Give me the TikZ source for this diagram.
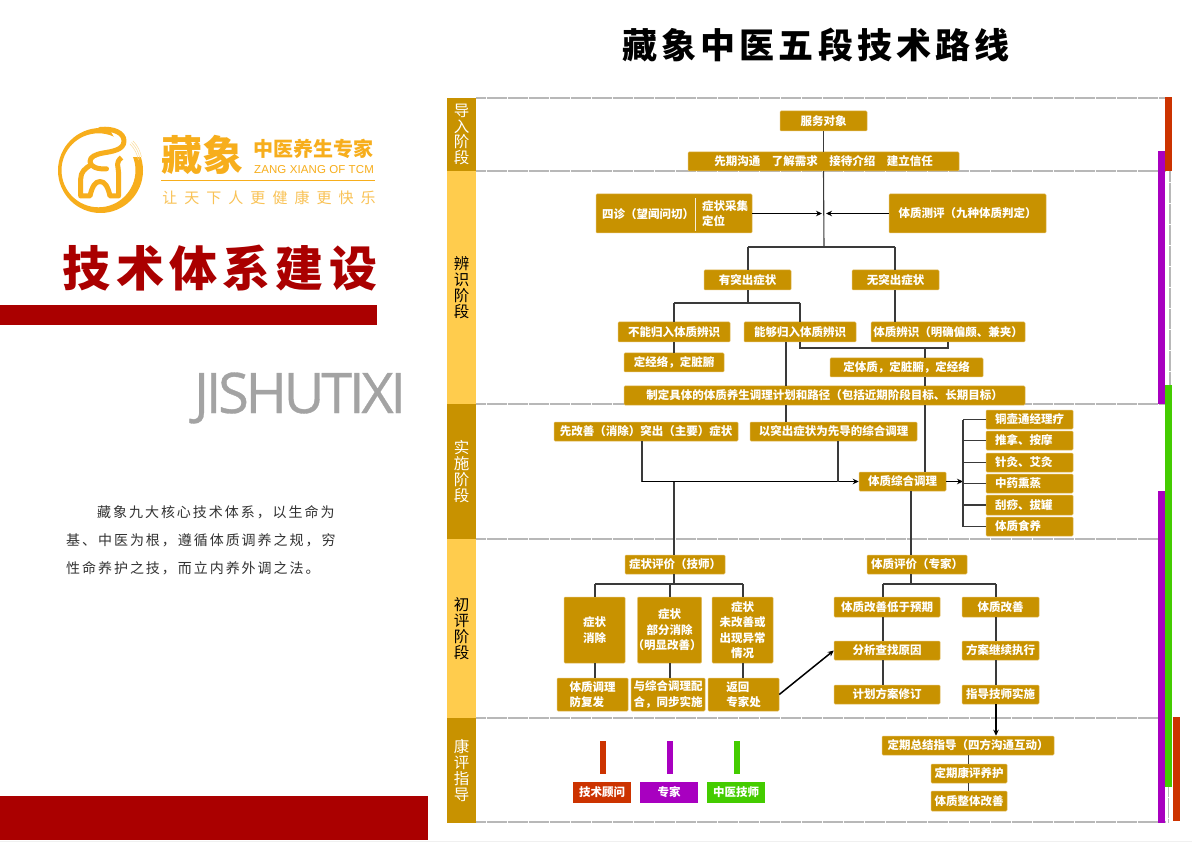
\documentclass[tikz,border=0pt]{standalone}
\usepackage{fontspec}
\setmainfont{Noto Sans CJK SC}
\newfontfamily\latinsans{Liberation Sans}
\newfontfamily\latinlight[FakeBold=0.6,LetterSpace=-5.8]{Open Sans}
\usetikzlibrary{arrows.meta}
\definecolor{gold}{HTML}{C89200}
\definecolor{goldedge}{HTML}{E2BC62}
\definecolor{paleband}{HTML}{FFCC4D}
\definecolor{logoorange}{HTML}{F7AE1C}
\definecolor{deepred}{HTML}{AA0000}
\definecolor{techred}{HTML}{CC3300}
\definecolor{techpurple}{HTML}{A800C0}
\definecolor{techgreen}{HTML}{44CC00}
\definecolor{linegray}{HTML}{3A3A3A}
\definecolor{dotgray}{HTML}{B8B8B8}
\tikzset{
  flowbox/.style={fill=gold,draw=goldedge,line width=0.5pt,rounded corners=1pt,inner sep=0pt,
    text=white,align=center,font=\fontsize{11.5}{15.5}\selectfont\bfseries},
  stageband/.style={fill=gold,inner sep=0pt,text=white,align=center,font=\fontsize{15.5}{15.8}\selectfont},
  paleband/.style={fill=paleband,inner sep=0pt,text=black,align=center,font=\fontsize{15.5}{15.8}\selectfont},
  treatbox/.style={text width=69pt,align=left},
  conn/.style={draw=linegray,line width=1.1pt},
  arrowconn/.style={draw=black,line width=1.1pt,-{Stealth[length=6pt,width=5.5pt]}},
  dotline/.style={draw=dotgray,line width=1.3pt,dash pattern=on 0.7pt off 0.35pt},
  plainlabel/.style={inner sep=0pt,anchor=west,text=white,font=\fontsize{11.5}{15.5}\selectfont\bfseries,align=left},
  paraline/.style={inner sep=0pt,anchor=west,text=black!80,font=\fontsize{14}{16}\selectfont\addfontfeature{LetterSpace=14}},
  logostroke/.style={logoorange,line width=5pt,line join=round,line cap=round},
}
% name, x1, y1, x2, y2 with options, then text
\newcommand{\flowbox}[7][flowbox]{%
  \node[#1,minimum width={(#4-#2)*1pt},minimum height={(#5-#3)*1pt}] (#6) at ({(#2+#4)/2},{(#3+#5)/2}) {#7};}
\begin{document}
\begin{tikzpicture}[x=1pt,y=-1pt]
\useasboundingbox (0,0) rectangle (1192,842);
\fill[white] (0,0) rectangle (1192,842);
\fill[black!6] (0,840.5) rectangle (1192,842);

% left column
\fill[deepred] (0,305) rectangle (377,325);
\fill[deepred] (0,796) rectangle (428,840);
% logo
\fill[logoorange,even odd rule] (100.5,170.5) circle (42.5) (98.5,170.3) circle (37);
\fill[white] (104,120) -- (150,120) -- (150,157) -- (126,157) -- cycle;
\foreach \dd in {0,1.5,3}{\draw[logoorange!45,line width=0.5pt] (130+\dd,144-\dd) .. controls (135+\dd,149-\dd) and (137+\dd,154-\dd) .. (138.5+\dd,160-\dd);}
\draw[logostroke]
  (100,129.5) .. controls (114,128) and (124,133) .. (124,141)
  .. controls (124,150) and (112,151.5) .. (103,153)
  .. controls (95,154.5) and (90,157) .. (90,161.5)
  .. controls (90,167) and (98,169.5) .. (106.5,168.8);
\draw[logostroke,line cap=butt]
  (92,164.5) .. controls (85,168) and (80.7,172) .. (80.7,179) -- (80.7,196) -- (90,196)
  .. controls (92,187) and (95,181.5) .. (100,181.5) .. controls (105,181.5) and (108,187) .. (110,196)
  -- (118.5,196) -- (118.5,172) .. controls (118.5,166) and (115,163) .. (121.5,157.5);
\node[inner sep=0pt,text=logoorange,font=\fontsize{41}{41}\selectfont\bfseries] (logoname) at (202.5,155) {藏象};
\node[inner sep=0pt,text=logoorange,font=\fontsize{20}{20}\selectfont\bfseries] (logotag) at (313.5,149) {中医养生专家};
\node[inner sep=0pt,text=logoorange,font=\fontsize{11.5}{12}\latinsans\addfontfeature{LetterSpace=1}] (logoen) at (314,170) {ZANG XIANG OF TCM};
\fill[logoorange] (161,180) rectangle (375,181.2);
\node[inner sep=0pt,text=logoorange!75,font=\fontsize{15}{16}\selectfont\addfontfeature{LetterSpace=47}] (logoslogan) at (269,198) {让天下人更健康更快乐};
\node[inner sep=0pt,text=deepred,font=\fontsize{48}{49}\selectfont\bfseries\addfontfeature{LetterSpace=11}] (maintitle) at (220,268) {技术体系建设};
\node[inner sep=0pt,text=black!36,font=\fontsize{56}{58}\latinlight] (pinyin) at (300,398) {JISHUTIXI};
\node[paraline] (p1) at (97,512) {藏象九大核心技术体系，以生命为};
\node[paraline] (p2) at (66,540) {基、中医为根，遵循体质调养之规，穷};
\node[paraline] (p3) at (66,568) {性命养护之技，而立内养外调之法。};

% title
\node[inner sep=0pt,text=black,font=\fontsize{35}{36}\selectfont\bfseries\addfontfeature{LetterSpace=12}] (charttitle) at (816,45) {藏象中医五段技术路线};

% dotted frame
\foreach \yy in {98,171,404,539,718,822}{\draw[dotline] (476,\yy) -- (1165,\yy);}
\draw[dotline] (1170,171) -- (1170,385);
\draw[dotline] (1168.5,787) -- (1168.5,822);

% right bars
\fill[techred] (1165,97) rectangle (1172,171);
\fill[techpurple] (1158,151) rectangle (1165,404);
\fill[techgreen] (1165,385) rectangle (1172,787);
\fill[techpurple] (1158,491) rectangle (1165,823);
\fill[techred] (1173,717) rectangle (1180,821);

% stage bands
\flowbox[stageband]{447}{98}{476}{171}{s1}{导\\入\\阶\\段}
\flowbox[paleband]{447}{171}{476}{404}{s2}{辨\\识\\阶\\段}
\flowbox[stageband]{447}{404}{476}{539}{s3}{实\\施\\阶\\段}
\flowbox[paleband]{447}{539}{476}{718}{s4}{初\\评\\阶\\段}
\flowbox[stageband]{447}{718}{476}{823}{s5}{康\\评\\指\\导}

% boxes
\flowbox{780}{111}{867}{131}{svc}{服务对象}
\flowbox{688}{152}{959}{171}{intro}{先期沟通\quad 了解需求\quad 接待介绍\quad 建立信任}
\flowbox{596}{194}{752}{233}{diag}{}
\node[plainlabel] (diagl) at (602,214) {四诊（望闻问切）};
\node[plainlabel] (diagr) at (702,213.5) {症状采集\\定位};
\fill[white!85!gold] (694.5,198) rectangle (695.8,231);
\flowbox{889}{194}{1046}{233}{eval}{体质测评（九种体质判定）}
\flowbox{704}{270}{791}{290}{yes}{有突出症状}
\flowbox{852}{270}{939}{290}{no}{无突出症状}
\flowbox{618}{322}{730}{342}{cannot}{不能归入体质辨识}
\flowbox{744}{322}{856}{342}{can}{能够归入体质辨识}
\flowbox{871}{322}{1025}{342}{ident}{体质辨识（明确偏颇、兼夹）}
\flowbox{624}{353}{724}{372}{mer}{定经络，定脏腑}
\flowbox{830}{358}{983}{377}{fix}{定体质，定脏腑，定经络}
\flowbox{624}{386}{1025}{405}{plan}{制定具体的体质养生调理计划和路径（包括近期阶段目标、长期目标）}
\flowbox{554}{422}{738}{441}{first}{先改善（消除）突出（主要）症状}
\flowbox{750}{422}{917}{441}{lead}{以突出症状为先导的综合调理}
\flowbox{859}{472}{946}{491}{comp}{体质综合调理}
\flowbox[flowbox,treatbox]{986}{410}{1073}{429}{t1}{铜壶通经理疗}
\flowbox[flowbox,treatbox]{986}{431}{1073}{450}{t2}{推拿、按摩}
\flowbox[flowbox,treatbox]{986}{453}{1073}{472}{t3}{针灸、艾灸}
\flowbox[flowbox,treatbox]{986}{474}{1073}{493}{t4}{中药熏蒸}
\flowbox[flowbox,treatbox]{986}{495}{1073}{515}{t5}{刮痧、拔罐}
\flowbox[flowbox,treatbox]{986}{517}{1073}{536}{t6}{体质食养}
\flowbox{625}{555}{725}{574}{symev}{症状评价（技师）}
\flowbox{867}{555}{967}{574}{conev}{体质评价（专家）}
\flowbox{564}{597}{625}{663}{a1}{症状\\消除}
\flowbox{639}{597}{700}{663}{a2}{症状\\部分消除\\\hspace{-5pt}（明显改善）\hspace{-5pt}}
\flowbox{712}{597}{773}{663}{a3}{症状\\未改善或\\出现异常\\情况}
\flowbox[flowbox,align=left]{557}{678}{628}{711}{b1}{体质调理\\防复发}
\flowbox[flowbox,align=left]{631}{678}{705}{711}{b2}{与综合调理配\\合，同步实施}
\flowbox[flowbox,align=left]{708}{678}{779}{711}{b3}{返回\\专家处}
\flowbox{834}{597}{940}{617}{c1}{体质改善低于预期}
\flowbox{834}{641}{940}{660}{c2}{分析查找原因}
\flowbox{834}{685}{940}{704}{c3}{计划方案修订}
\flowbox{962}{597}{1039}{617}{d1}{体质改善}
\flowbox{962}{641}{1039}{660}{d2}{方案继续执行}
\flowbox{962}{685}{1039}{704}{d3}{指导技师实施}
\flowbox{882}{736}{1054}{755}{e1}{定期总结指导（四方沟通互动）}
\flowbox{931}{764}{1007}{783}{e2}{定期康评养护}
\flowbox{931}{791}{1007}{811}{e3}{体质整体改善}

% legend
\fill[techred] (600,741) rectangle (606,774);
\fill[techpurple] (667,741) rectangle (673,774);
\fill[techgreen] (734,741) rectangle (740,774);
\flowbox[flowbox,fill=techred,draw=none,rounded corners=0pt]{573}{782}{631}{803}{l1}{技术顾问}
\flowbox[flowbox,fill=techpurple,draw=none,rounded corners=0pt]{640}{782}{698}{803}{l2}{专家}
\flowbox[flowbox,fill=techgreen,draw=none,rounded corners=0pt]{707}{782}{765}{803}{l3}{中医技师}

% junction coordinates
\coordinate (split) at (824,247);
\coordinate (yesj) at (748,247);
\coordinate (noj) at (895,247);
\coordinate (yess) at (748,303);
\coordinate (ll) at (674,303);
\coordinate (lr) at (800,303);
\coordinate (canj) at (800,348);
\coordinate (idj) at (948,348);
\coordinate (fixj) at (925,348);
\coordinate (x785) at (786,0);
\coordinate (x925) at (925,0);
\coordinate (x642) at (642,0);
\coordinate (x838) at (838,0);
\coordinate (x911) at (911,0);
\coordinate (low) at (642,481.5);
\coordinate (lowj) at (674,481.5);
\coordinate (lowk) at (838,481.5);
\coordinate (rack) at (963,481.5);
\coordinate (racktop) at (963,419.5);
\coordinate (rackbot) at (963,526.5);
\coordinate (symj) at (674,584);
\coordinate (sl) at (595,584);
\coordinate (sm) at (670,584);
\coordinate (sr) at (743,584);
\coordinate (conj) at (911,584);
\coordinate (cl) at (883,584);
\coordinate (cr) at (996,584);
\coordinate (x968) at (968.5,0);
\coordinate (x996) at (996,0);
\coordinate (x883) at (883,0);
\coordinate (x595) at (595,0);
\coordinate (x670) at (670,0);
\coordinate (x743) at (743,0);
\coordinate (hubl) at (822,213.5);
\coordinate (hubr) at (826,213.5);

% connectors
\draw[conn] (svc.south) -- (svc.south |- intro.north);
\draw[conn] (svc.south |- intro.south) -- (split);
\draw[arrowconn] (diag.east) -- (hubl);
\draw[arrowconn] (eval.west) -- (hubr);
\draw[conn] (yesj) -- (noj);
\draw[conn] (yesj) -- (yes.north -| yesj);
\draw[conn] (noj) -- (no.north -| noj);
\draw[conn] (yes.south -| yesj) -- (yess);
\draw[conn] (ll) -- (lr);
\draw[conn] (ll) -- (cannot.north -| ll);
\draw[conn] (lr) -- (can.north -| lr);
\draw[conn] (cannot.south -| ll) -- (mer.north -| ll);
\draw[conn] (no.south -| noj) -- (ident.north -| noj);
\draw[conn] (can.south -| canj) -- (canj) -- (idj) -- (ident.south -| idj);
\draw[conn] (fixj) -- (fix.north -| fixj);
\draw[conn] (fix.south -| fixj) -- (plan.north -| fixj);
\draw[conn] (plan.south -| x925) -- (comp.north -| x925);
\draw[conn] (can.south -| x785) -- (plan.north -| x785);
\draw[conn] (plan.south -| x785) -- (lead.north -| x785);
\draw[conn] (first.south -| x642) -- (low);
\draw[arrowconn] (low) -- (comp.west);
\draw[conn] (lead.south -| x838) -- (lowk);
\draw[conn] (lowj) -- (symev.north -| lowj);
\draw[arrowconn] (comp.east) -- (rack);
\draw[conn] (racktop) -- (rackbot);
\foreach \t in {t1,t2,t3,t4,t5,t6}{\draw[conn] (\t.west -| rack) -- (\t.west);}
\draw[conn] (comp.south -| x911) -- (conev.north -| x911);
\draw[conn] (symev.south -| symj) -- (symj);
\draw[conn] (sl) -- (sr);
\draw[conn] (sl) -- (a1.north -| sl);
\draw[conn] (sm) -- (a2.north -| sm);
\draw[conn] (sr) -- (a3.north -| sr);
\draw[conn] (a1.south -| x595) -- (b1.north -| x595);
\draw[conn] (a2.south -| x670) -- (b2.north -| x670);
\draw[conn] (a3.south -| x743) -- (b3.north -| x743);
\draw[arrowconn,line width=1.5pt] (b3.east) -- (c2.west);
\draw[conn] (conev.south -| conj) -- (conj);
\draw[conn] (cl) -- (cr);
\draw[conn] (cl) -- (c1.north -| cl);
\draw[conn] (cr) -- (d1.north -| cr);
\draw[conn] (c1.south -| x883) -- (c2.north -| x883);
\draw[conn] (c2.south -| x883) -- (c3.north -| x883);
\draw[conn] (d1.south -| x996) -- (d2.north -| x996);
\draw[conn] (d2.south -| x996) -- (d3.north -| x996);
\draw[arrowconn] (d3.south -| x996) -- (e1.north -| x996);
\draw[conn] (e1.south -| x968) -- (e2.north -| x968);
\draw[conn] (e2.south -| x968) -- (e3.north -| x968);
\end{tikzpicture}
\end{document}
